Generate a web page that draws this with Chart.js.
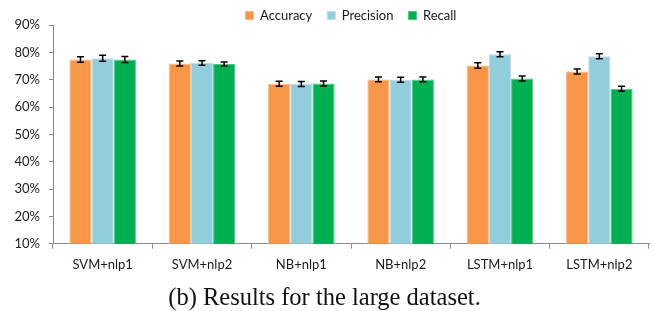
<!DOCTYPE html>
<html>
<head>
<meta charset="utf-8">
<script src="https://cdn.jsdelivr.net/npm/chart.js@4/dist/chart.umd.min.js"></script>
<style>
  html, body { margin: 0; padding: 0; background: #fff; }
  #wrap { width: 653px; height: 311px; position: relative; }
</style>
</head>
<body>
<div id="wrap"><canvas id="c"></canvas></div>
<script>
// Results for the large dataset: accuracy / precision / recall (%) per model.
var CATEGORIES = ['SVM+nlp1', 'SVM+nlp2', 'NB+nlp1', 'NB+nlp2', 'LSTM+nlp1', 'LSTM+nlp2'];

var ACCURACY  = [77.4, 75.9, 68.5, 70.1, 75.2, 73.0];
var PRECISION = [77.8, 76.1, 68.4, 70.0, 79.3, 78.6];
var RECALL    = [77.4, 75.7, 68.6, 70.1, 70.4, 66.7];

// half-length of the error bars, same units
var ACCURACY_ERR  = [1.0, 0.9, 0.9, 0.9, 1.0, 0.9];
var PRECISION_ERR = [1.1, 0.8, 0.9, 0.9, 0.9, 0.9];
var RECALL_ERR    = [1.1, 0.8, 0.9, 0.9, 0.9, 0.9];

var Y_TICKS = [10, 20, 30, 40, 50, 60, 70, 80, 90];

var AXIS_COLOR = '#8c8c8c';
var LABEL_FONT = { family: 'Lato, "Open Sans", sans-serif', size: 13 };

function series(label, data, err, fill, edge) {
  return {
    label: label,
    data: data,
    errors: err,
    backgroundColor: fill,
    borderColor: edge,
    borderWidth: 1,
    categoryPercentage: 0.67,
    barPercentage: 1.0
  };
}

// Draws the black I-shaped error bars on top of each bar, using the chart's
// own bar elements and y scale for placement.
var errorBars = {
  id: 'errorBars',
  afterDatasetsDraw: function (chart) {
    var ctx = chart.ctx;
    var y = chart.scales.y;
    ctx.save();
    ctx.strokeStyle = '#000';
    ctx.lineWidth = 1.5;
    chart.data.datasets.forEach(function (ds, di) {
      var meta = chart.getDatasetMeta(di);
      meta.data.forEach(function (bar, i) {
        var v = ds.data[i], e = ds.errors[i];
        var yTop = y.getPixelForValue(v + e);
        var yBot = y.getPixelForValue(v - e);
        var x = bar.x, cap = 3.5;
        ctx.beginPath();
        ctx.moveTo(x, yTop); ctx.lineTo(x, yBot);
        ctx.moveTo(x - cap, yTop); ctx.lineTo(x + cap, yTop);
        ctx.moveTo(x - cap, yBot); ctx.lineTo(x + cap, yBot);
        ctx.stroke();
      });
    });
    ctx.restore();
  }
};

new Chart(document.getElementById('c'), {
  type: 'bar',
  data: {
    labels: CATEGORIES,
    datasets: [
      series('Accuracy', ACCURACY, ACCURACY_ERR, '#f79646', '#f9b484'),
      series('Precision', PRECISION, PRECISION_ERR, '#92cddc', '#b6dde8'),
      series('Recall', RECALL, RECALL_ERR, '#00b050', '#4cc884')
    ]
  },
  options: {
    responsive: true,
    maintainAspectRatio: false,
    animation: false,
    layout: { padding: { top: -6, right: 4, left: 0, bottom: 0 } },
    plugins: {
      legend: {
        position: 'top',
        fullSize: false,
        maxHeight: 31,
        labels: {
          boxWidth: 8,
          boxHeight: 8,
          padding: 15,
          color: '#1a1a1a',
          font: LABEL_FONT
        }
      },
      title: {
        display: true,
        position: 'bottom',
        text: '(b) Results for the large dataset.',
        color: '#111',
        font: { family: '"Liberation Serif", "Times New Roman", serif', size: 24.5, weight: 'normal', lineHeight: 1 },
        padding: { top: 4.5, bottom: 0 }
      },
      tooltip: { enabled: false }
    },
    scales: {
      x: {
        grid: { drawOnChartArea: false, drawTicks: true, tickLength: 5, color: AXIS_COLOR, offset: true },
        border: { color: AXIS_COLOR },
        ticks: { color: '#1a1a1a', font: LABEL_FONT, padding: 8, maxRotation: 0 },
        afterFit: function (scale) { scale.height = 38.3; }
      },
      y: {
        min: 10,
        max: 90,
        afterBuildTicks: function (scale) {
          scale.ticks = Y_TICKS.map(function (v) { return { value: v }; });
        },
        grid: { drawOnChartArea: false, drawTicks: true, tickLength: 4, color: AXIS_COLOR },
        border: { color: AXIS_COLOR },
        ticks: {
          color: '#1a1a1a',
          font: LABEL_FONT,
          padding: 9,
          callback: function (v) { return v + '%'; }
        },
        afterFit: function (scale) { scale.width = 53; }
      }
    }
  },
  plugins: [errorBars]
});
</script>
</body>
</html>
